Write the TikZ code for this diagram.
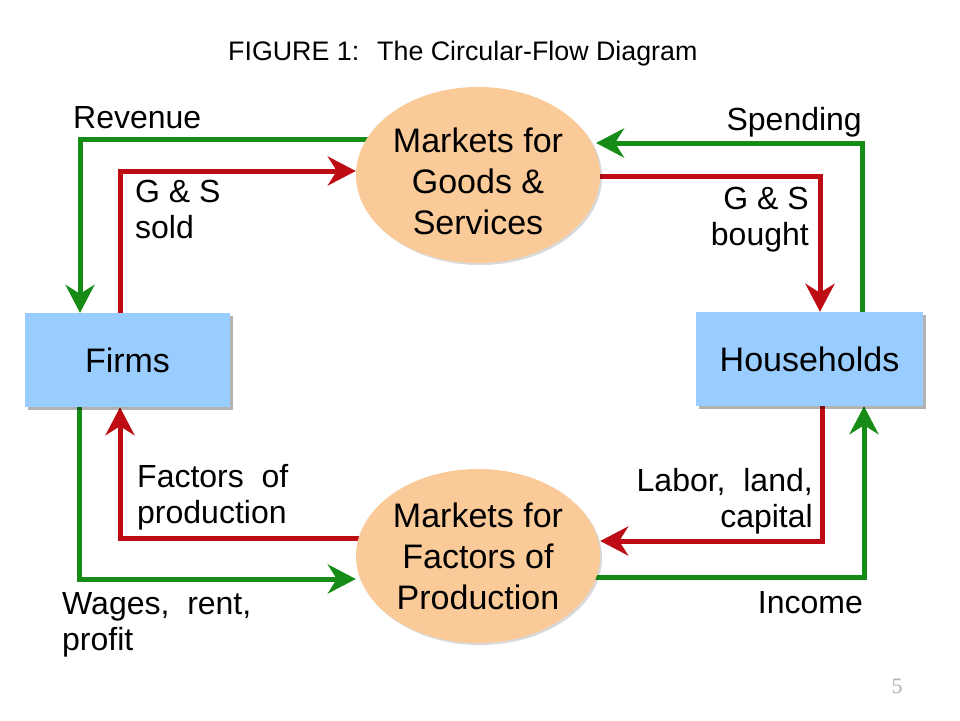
\documentclass[tikz,border=0pt]{standalone}
\usepackage{fontspec}
\setmainfont{Liberation Sans}
\newfontfamily\serifnum{Liberation Serif}
\usetikzlibrary{arrows.meta,shapes.geometric,shadows,backgrounds}
\pgfdeclarelayer{paper}
\pgfsetlayers{paper,background,main}
\definecolor{flowgreen}{RGB}{22,140,22}
\definecolor{flowred}{RGB}{190,12,20}
\definecolor{boxblue}{RGB}{153,204,255}
\definecolor{peach}{RGB}{250,202,152}
\begin{document}
\begin{tikzpicture}[x=1pt,y=-1pt,
  box/.style={rectangle, fill=boxblue, minimum height=94pt, inner sep=0pt,
    font=\fontsize{34}{40}\selectfont,
    drop shadow={shadow xshift=3pt, shadow yshift=-3pt, fill=black, opacity=0.3}},
  market/.style={ellipse, fill=peach, minimum width=244pt, minimum height=176pt, inner sep=0pt,
    align=center, font=\fontsize{34}{41}\selectfont,
    drop shadow={shadow xshift=2pt, shadow yshift=-2pt, fill=black, opacity=0.15}},
  flowtip/.style={-{Stealth[length=28pt,width=29pt,inset=9pt]}},
  gflow/.style={draw=flowgreen, line width=5pt, flowtip},
  rflow/.style={draw=flowred, line width=5pt, flowtip},
  lbl/.style={inner sep=0pt, font=\fontsize{32}{36}\selectfont}]
\begin{pgfonlayer}{paper}
\fill[white] (0,0) rectangle (960,720);
\end{pgfonlayer}
\useasboundingbox (0,0) rectangle (960,720);

\node[anchor=base west, inner sep=0pt, font=\fontsize{26.8}{30}\selectfont] (title) at (228,60) {FIGURE 1:\hspace{18pt}The Circular-Flow Diagram};

\node[box, minimum width=205pt] (firms) at (127.5,360) {Firms};
\node[box, minimum width=227pt] (hh) at (809.5,359) {Households};
\node[market] (goods) at (478,175) {\rule{0pt}{37pt}Markets for\\Goods \&\\Services};
\node[market, minimum height=174pt] (factors) at (478,556) {Markets for\\Factors of\\Production};

\coordinate (spendtip) at (596,143);

\begin{scope}[on background layer]
\draw[gflow] (goods.center |- 0,139) -- (80,139) -- (80,0 |- firms.north);
\draw[rflow] (120,0 |- firms.north) -- (120,171) -- (goods.west |- 0,171);
\draw[gflow] (862,0 |- hh.north) -- (862,143) -- (spendtip);
\draw[rflow] (goods.center |- 0,176) -- (820,176) -- (820,0 |- hh.north);
\draw[rflow] (factors.center |- 0,538) -- (120,538) -- (120,0 |- firms.south);
\draw[gflow] (79,0 |- firms.south) -- (79,579) -- (factors.west |- 0,579);
\draw[rflow] (822,0 |- hh.south) -- (822,541) -- (factors.east |- 0,541);
\draw[gflow] (factors.center |- 0,577) -- (864,577) -- (864,0 |- hh.south);
\end{scope}

\node[lbl, anchor=base west] (rev) at (73,128) {Revenue};
\node[lbl, anchor=base west, align=left] (sold) at (135,238) {G \& S\\sold};
\node[lbl, anchor=base east] (spend) at (862,130) {Spending};
\node[lbl, anchor=base east, align=right] (bought) at (809,245) {G \& S\\bought};
\node[lbl, anchor=base west, align=left] (fop) at (137,523) {Factors\ \ of\\production};
\node[lbl, anchor=base west, align=left] (wages) at (62,650) {Wages,\ \ rent,\\profit};
\node[lbl, anchor=base east, align=right] (labor) at (813,527) {Labor,\ \ land,\\capital};
\node[lbl, anchor=base east] (inc) at (863,613) {Income};
\node[anchor=base, inner sep=0pt, font=\serifnum\fontsize{22}{26}\selectfont, text=black!30] (pg) at (897,693) {5};
\end{tikzpicture}
\end{document}
